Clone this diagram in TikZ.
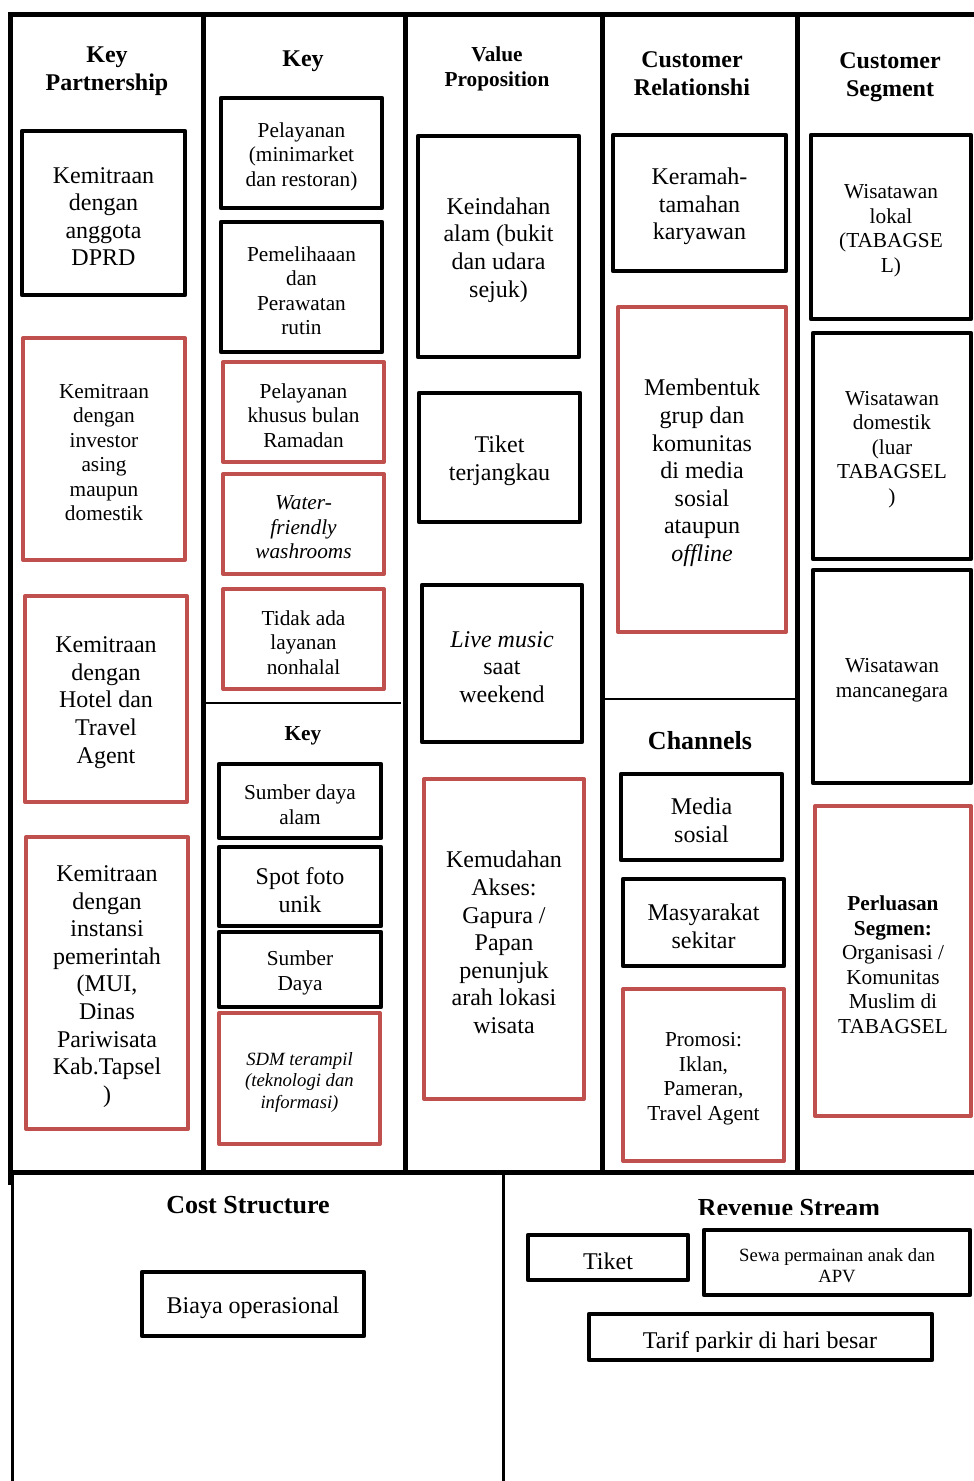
\documentclass[tikz,border=0pt]{standalone}
\usepackage{fontspec}
\setmainfont{Liberation Serif}
\definecolor{redc}{HTML}{C0504D}
\tikzset{
 blk/.style={draw=black,line width=4.5pt,line join=round,align=center,inner sep=0pt},
 rbx/.style={draw=redc,line width=4pt,line join=round,align=center,inner sep=0pt},
 ttl/.style={font=\bfseries\fontsize{24}{28}\selectfont,align=center,inner sep=0pt},
 ttlB/.style={font=\bfseries\fontsize{21.3}{25}\selectfont,align=center,inner sep=0pt},
 ttlC/.style={font=\bfseries\fontsize{26}{30}\selectfont,align=center,inner sep=0pt},
 fA/.style={font=\fontsize{24}{27.6}\selectfont},
 fB/.style={font=\fontsize{21.3}{24.5}\selectfont},
 fBi/.style={font=\itshape\fontsize{21.3}{24.5}\selectfont},
 fC/.style={font=\itshape\fontsize{18.7}{21.5}\selectfont},
 fD/.style={font=\fontsize{18.7}{21}\selectfont},
 frame/.style={line width=5pt,line cap=rect},
 thinline/.style={line width=1.5pt},
 bottomline/.style={line width=3pt}
}
\newcommand{\mybox}[7]{%
 \pgfmathsetmacro\cx{(#3+#5)/2}\pgfmathsetmacro\cy{(#4+#6)/2}%
 \pgfmathsetmacro\ww{#5-#3}\pgfmathsetmacro\hh{#6-#4}%
 \node[#2,minimum width=\ww pt,minimum height=\hh pt] (#1) at (\cx,\cy) {};
 \node[#2,draw=none,yshift=-3.5pt] (#1t) at (#1.center) {#7};}
\begin{document}
\begin{tikzpicture}[x=1pt,y=-1pt]
\useasboundingbox (0,0) rectangle (974,1481);
\fill[white] (0,0) rectangle (974,1481);
% frame
\draw[frame] (10,14) -- (974,14);
\draw[frame] (10,14) -- (10,1182);
\draw[frame] (203,14) -- (203,1172);
\draw[frame] (405,14) -- (405,1172);
\draw[frame] (602,14) -- (602,1172);
\draw[frame] (797,14) -- (797,1172);
\draw[frame] (10,1172) -- (974,1172);
\draw[thinline] (205,703) -- (401,703);
\draw[thinline] (604,699) -- (797,699);
\draw[bottomline] (12,1172) -- (12,1481);
\draw[bottomline] (503,1172) -- (503,1481);
% titles
\node[ttl] (t1) at (107,71) {Key\\Partnership};
\node[ttl] (t2) at (303,61) {Key};
\node[ttlB] (t3) at (497,69) {Value\\Proposition};
\node[ttl] (t4) at (692,74) {Customer\\Relationshi};
\node[ttl] (t5) at (890,77) {Customer\\Segment};
\node[ttlB] (t6) at (303,736) {Key};
\node[ttlC] (t7) at (700,741) {Channels};
\begin{scope}
\clip (12,1172) rectangle (974,1214);
\node[ttlC] (t8) at (248,1205) {Cost Structure};
\node[ttlC] (t9) at (789,1208) {Revenue Stream};
\end{scope}
% Key Partnership
\mybox{kp1}{blk,fA}{22}{131}{185}{295}{Kemitraan\\dengan\\anggota\\DPRD}
\mybox{kp2}{rbx,fB}{23}{338}{185}{560}{Kemitraan\\dengan\\investor\\asing\\maupun\\domestik}
\mybox{kp3}{rbx,fA}{25}{596}{187}{802}{Kemitraan\\dengan\\Hotel dan\\Travel\\Agent}
\mybox{kp4}{rbx,fA}{26}{837}{188}{1129}{Kemitraan\\dengan\\instansi\\pemerintah\\(MUI,\\Dinas\\Pariwisata\\Kab.Tapsel\\)}
% Key Activities
\mybox{ka1}{blk,fB}{221}{98}{382}{208}{Pelayanan\\(minimarket\\dan restoran)}
\mybox{ka2}{blk,fB}{221}{222}{382}{352}{Pemelihaaan\\dan\\Perawatan\\rutin}
\mybox{ka3}{rbx,fB}{223}{362}{384}{462}{Pelayanan\\khusus bulan\\Ramadan}
\mybox{ka4}{rbx,fBi}{223}{474}{384}{574}{Water-\\friendly\\washrooms}
\mybox{ka5}{rbx,fB}{223}{589}{384}{689}{Tidak ada\\layanan\\nonhalal}
% Key Resources
\mybox{kr1}{blk,fB}{219}{764}{381}{838}{Sumber daya\\alam}
\mybox{kr2}{blk,fA}{219}{847}{381}{926}{Spot foto\\unik}
\mybox{kr3}{blk,fB}{219}{932}{381}{1007}{Sumber\\Daya}
\mybox{kr4}{rbx,fC}{219}{1013}{380}{1144}{SDM terampil\\(teknologi dan\\informasi)}
% Value Proposition
\mybox{vp1}{blk,fA}{418}{136}{579}{357}{Keindahan\\alam (bukit\\dan udara\\sejuk)}
\mybox{vp2}{blk,fA}{419}{393}{580}{522}{Tiket\\terjangkau}
\mybox{vp3}{blk,fA}{422}{585}{582}{742}{\textit{Live music}\\saat\\weekend}
\mybox{vp4}{rbx,fA}{424}{779}{584}{1099}{Kemudahan\\Akses:\\Gapura /\\Papan\\penunjuk\\arah lokasi\\wisata}
% Customer Relationship
\mybox{cr1}{blk,fA}{613}{135}{786}{271}{Keramah-\\tamahan\\karyawan}
\mybox{cr2}{rbx,fA}{618}{307}{786}{632}{Membentuk\\grup dan\\komunitas\\di media\\sosial\\ataupun\\\textit{offline}}
% Channels
\mybox{ch1}{blk,fA}{621}{774}{782}{860}{Media\\sosial}
\mybox{ch2}{blk,fA}{623}{879}{784}{966}{Masyarakat\\sekitar}
\mybox{ch3}{rbx,fB}{623}{989}{784}{1161}{Promosi:\\Iklan,\\Pameran,\\Travel Agent}
% Customer Segment
\mybox{cs1}{blk,fB}{811}{135}{971}{319}{Wisatawan\\lokal\\(TABAGSE\\L)}
\mybox{cs2}{blk,fB}{813}{333}{971}{559}{Wisatawan\\domestik\\(luar\\TABAGSEL\\)}
\mybox{cs3}{blk,fB}{813}{570}{971}{783}{Wisatawan\\mancanegara}
\mybox{cs4}{rbx,fB}{815}{806}{971}{1116}{\textbf{Perluasan}\\\textbf{Segmen:}\\Organisasi /\\Komunitas\\Muslim di\\TABAGSEL}
% Cost structure
\mybox{cost1}{blk,fA}{142}{1272}{364}{1336}{Biaya operasional}
% Revenue stream
\mybox{rv1}{blk,fA}{528}{1235}{688}{1280}{Tiket}
\mybox{rv2}{blk,fD}{704}{1230}{970}{1295}{Sewa permainan anak dan\\APV}
\node[blk,minimum width=343pt,minimum height=46pt] (rv3) at (760.5,1337) {};
\begin{scope}
\clip (589,1314) rectangle (932,1351);
\node[fA,inner sep=0pt,anchor=base] (rv3t) at (760,1348) {Tarif parkir di hari besar};
\end{scope}
\end{tikzpicture}
\end{document}
